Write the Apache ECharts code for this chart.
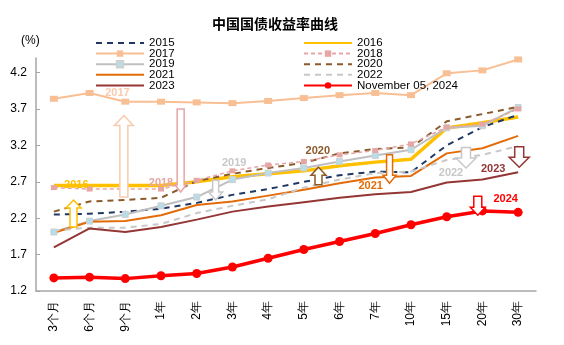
<!DOCTYPE html>
<html>
<head>
<meta charset="utf-8">
<script src="https://cdn.jsdelivr.net/npm/echarts@6/dist/echarts.min.js"></script>
<style>
html,body{margin:0;padding:0;background:#fff;}
#chart{width:564px;height:345px;}
</style>
</head>
<body>
<div id="chart"></div>
<script>
// ---- data ----
const categories = ['3个月','6个月','9个月','1年','2年','3年','4年','5年','6年','7年','10年','15年','20年','30年'];
const y2015 = [2.25, 2.26, 2.29, 2.33, 2.41, 2.52, 2.60, 2.70, 2.79, 2.84, 2.83, 3.20, 3.45, 3.62];
const y2016 = [2.65, 2.65, 2.65, 2.65, 2.70, 2.77, 2.81, 2.85, 2.92, 2.97, 3.01, 3.44, 3.51, 3.59];
const y2017 = [3.84, 3.92, 3.80, 3.80, 3.79, 3.78, 3.81, 3.85, 3.89, 3.92, 3.89, 4.19, 4.23, 4.38];
const y2018 = [2.62, 2.60, 2.60, 2.60, 2.72, 2.85, 2.93, 2.98, 3.07, 3.13, 3.22, 3.45, 3.49, 3.70];
const y2019 = [2.01, 2.16, 2.25, 2.37, 2.49, 2.73, 2.82, 2.89, 2.98, 3.06, 3.14, 3.44, 3.47, 3.72];
const y2020 = [2.29, 2.43, 2.45, 2.48, 2.71, 2.81, 2.89, 2.96, 3.09, 3.15, 3.17, 3.53, 3.63, 3.73];
const y2021 = [2.00, 2.15, 2.16, 2.24, 2.38, 2.43, 2.51, 2.59, 2.68, 2.76, 2.78, 3.09, 3.16, 3.33];
const y2022 = [2.03, 2.07, 2.07, 2.12, 2.27, 2.37, 2.46, 2.62, 2.73, 2.82, 2.84, 3.00, 3.07, 3.19];
const y2023 = [1.80, 2.06, 2.01, 2.08, 2.18, 2.29, 2.36, 2.42, 2.48, 2.53, 2.56, 2.69, 2.73, 2.83];
const y2024 = [1.38, 1.39, 1.37, 1.41, 1.44, 1.53, 1.65, 1.77, 1.88, 1.99, 2.11, 2.22, 2.30, 2.28];
const yTickMin = 1.2, yTickMax = 4.4, yTickStep = 0.5;

// annotation anchors (category index, value)
const noteYears = ['2016','2017','2018','2019','2020','2021','2022','2023','2024'];
const noteLabelX = [0.63, 1.78, 3.00, 5.05, 7.39, 8.87, 11.12, 12.30, 12.65];
const noteLabelY = [2.66, 3.92, 2.68, 2.96, 3.12, 2.64, 2.82, 2.88, 2.46];
const arrowX = [0.55, 1.96, 3.55, 4.53, 7.41, 9.40, 11.54, 13.03, 11.87];
const arrowTop = [2.45, 3.61, 3.70, 2.72, 2.90, 3.07, 3.17, 3.18, 2.50];
const arrowBottom = [2.08, 2.49, 2.56, 2.45, 2.66, 2.68, 2.89, 2.90, 2.24];
const arrowDir = ['up','up','down','down','up','down','down','down','down'];

// ---- styles ----
const noteColors = ['#FFC000','#F8CBAD','#E6A6A6','#C8C8C8','#8B5A2B','#E36C09','#C8C8C8','#943634','#FF0000'];
const arrowStroke = ['#FFC000','#F8CBAD','#E6A6A6','#C8C8C8','#8B5A2B','#E36C09','#C8C8C8','#943634','#FF0000'];
const arrowHeadW = [15, 19, 11, 14, 15, 13, 20, 20, 15];
const arrowShaftW = [7, 8, 7, 6, 7, 6, 9, 9, 8];
const arrowHeadH = [8, 10, 7, 8, 8, 8, 10, 10, 8];

const chart = echarts.init(document.getElementById('chart'), null, {renderer:'canvas'});
const font = 'Liberation Sans';

function line(name, data, color, opts) {
  return Object.assign({
    name: name, type: 'line', data: data, symbol: 'none', smooth: false,
    lineStyle: { color: color, width: 2, type: 'solid' },
    itemStyle: { color: color },
    emphasis: { disabled: true }
  }, opts || {});
}

const series = [
  line('2015', y2015, '#1F3864', {lineStyle:{color:'#1F3864', width:2, type:[6,5]}, z:3}),
  line('2016', y2016, '#FFC000', {lineStyle:{color:'#FFC000', width:3.5}, z:2}),
  line('2017', y2017, '#F9BF94', {lineStyle:{color:'#F9BF94', width:2}, symbol:'rect', symbolSize:[8,6], itemStyle:{color:'#F9BF94'}, z:3}),
  line('2018', y2018, '#E6A6A6', {lineStyle:{color:'#E6A6A6', width:1.5, type:[4,3]}, symbol:'rect', symbolSize:[6,5], itemStyle:{color:'#E6A6A6'}, z:4}),
  line('2019', y2019, '#BFBFBF', {lineStyle:{color:'#BFBFBF', width:2}, symbol:'rect', symbolSize:6, itemStyle:{color:'#B7DDE8', borderColor:'#D0D0D0', borderWidth:1}, z:3}),
  line('2020', y2020, '#8B5A2B', {lineStyle:{color:'#8B5A2B', width:2, type:[6,5]}, z:3}),
  line('2021', y2021, '#E36C09', {lineStyle:{color:'#E36C09', width:2}, z:3}),
  line('2022', y2022, '#C8C8C8', {lineStyle:{color:'#C8C8C8', width:2, type:[6,5]}, z:3}),
  line('2023', y2023, '#943634', {lineStyle:{color:'#943634', width:2}, z:3}),
  line('November 05, 2024', y2024, '#FF0000', {lineStyle:{color:'#FF0000', width:3.5}, symbol:'circle', symbolSize:9, itemStyle:{color:'#FF0000'}, z:5})
];

const noMarker = {opacity: 0};
function legItem(name, hideMarker) {
  return hideMarker ? {name: name, itemStyle: noMarker} : {name: name};
}
const legendText = {fontSize: 11.5, color: '#000', fontFamily: font};
const option = {
  animation: false,
  backgroundColor: '#fff',
  title: {
    text: '中国国债收益率曲线', left: 207, top: 12,
    textStyle: {fontSize: 14, fontWeight: 'bold', color: '#000', fontFamily: 'Noto Sans CJK SC'}
  },
  legend: [
    {left: 95, top: 37, orient: 'vertical', padding: 0, itemWidth: 48, itemHeight: 8, itemGap: -1.4,
     data: [legItem('2015', true), legItem('2017'), legItem('2019'), legItem('2021', true), legItem('2023', true)],
     textStyle: legendText, selectedMode: false},
    {left: 303, top: 37, orient: 'vertical', padding: 0, itemWidth: 48, itemHeight: 8, itemGap: -1.4,
     data: [legItem('2016', true), legItem('2018'), legItem('2020', true), legItem('2022', true), legItem('November 05, 2024')],
     textStyle: legendText, selectedMode: false}
  ],
  grid: {left: 36, right: 28, top: 58, bottom: 54},
  xAxis: {
    type: 'category', data: categories, boundaryGap: true,
    axisLine: {lineStyle: {color: '#A6A6A6', width: 1.5}},
    axisTick: {inside: true, length: 4, lineStyle: {color: '#A6A6A6'}},
    axisLabel: {rotate: 90, fontSize: 12, color: '#000', margin: 10, fontFamily: font}
  },
  yAxis: {
    type: 'value', min: yTickMin, max: yTickMax, interval: yTickStep,
    splitLine: {show: false},
    axisLine: {show: true, lineStyle: {color: '#A6A6A6', width: 1.5}},
    axisTick: {show: true, inside: true, length: 4, lineStyle: {color: '#A6A6A6'}},
    axisLabel: {showMaxLabel: false, fontSize: 12, color: '#000', margin: 9, fontFamily: font,
      formatter: v => v.toFixed(1)}
  },
  series: series
};
chart.setOption(option);

// ---- annotations positioned through the grid's coordinate system ----
function toPx(idx, val) {
  const a = chart.convertToPixel({gridIndex: 0}, [0, val]);
  const b = chart.convertToPixel({gridIndex: 0}, [categories.length - 1, val]);
  return [a[0] + (b[0] - a[0]) * idx / (categories.length - 1), a[1]];
}
const graphics = [];
graphics.push({type: 'text', left: 21, top: 35, style: {text: '(%)', fill: '#000', font: '12px ' + font}});
for (let i = 0; i < noteYears.length; i++) {
  const top = toPx(arrowX[i], arrowTop[i]);
  const bot = toPx(arrowX[i], arrowBottom[i]);
  const cx = top[0], yt = top[1], yb = bot[1];
  const hw = arrowHeadW[i] / 2, sw = arrowShaftW[i] / 2, hh = arrowHeadH[i];
  let pts;
  if (arrowDir[i] === 'up') {
    pts = [[cx, yt], [cx + hw, yt + hh], [cx + sw, yt + hh], [cx + sw, yb], [cx - sw, yb], [cx - sw, yt + hh], [cx - hw, yt + hh]];
  } else {
    pts = [[cx, yb], [cx + hw, yb - hh], [cx + sw, yb - hh], [cx + sw, yt], [cx - sw, yt], [cx - sw, yb - hh], [cx - hw, yb - hh]];
  }
  graphics.push({type: 'polygon', shape: {points: pts}, z: 10,
    style: {fill: '#fff', stroke: arrowStroke[i], lineWidth: 1.5}});
  const lp = toPx(noteLabelX[i], noteLabelY[i]);
  graphics.push({type: 'text', x: lp[0], y: lp[1], z: 11,
    style: {text: noteYears[i], fill: noteColors[i], font: 'bold 11px ' + font, align: 'center', verticalAlign: 'middle'}});
}
chart.setOption({graphic: graphics});
</script>
</body>
</html>
